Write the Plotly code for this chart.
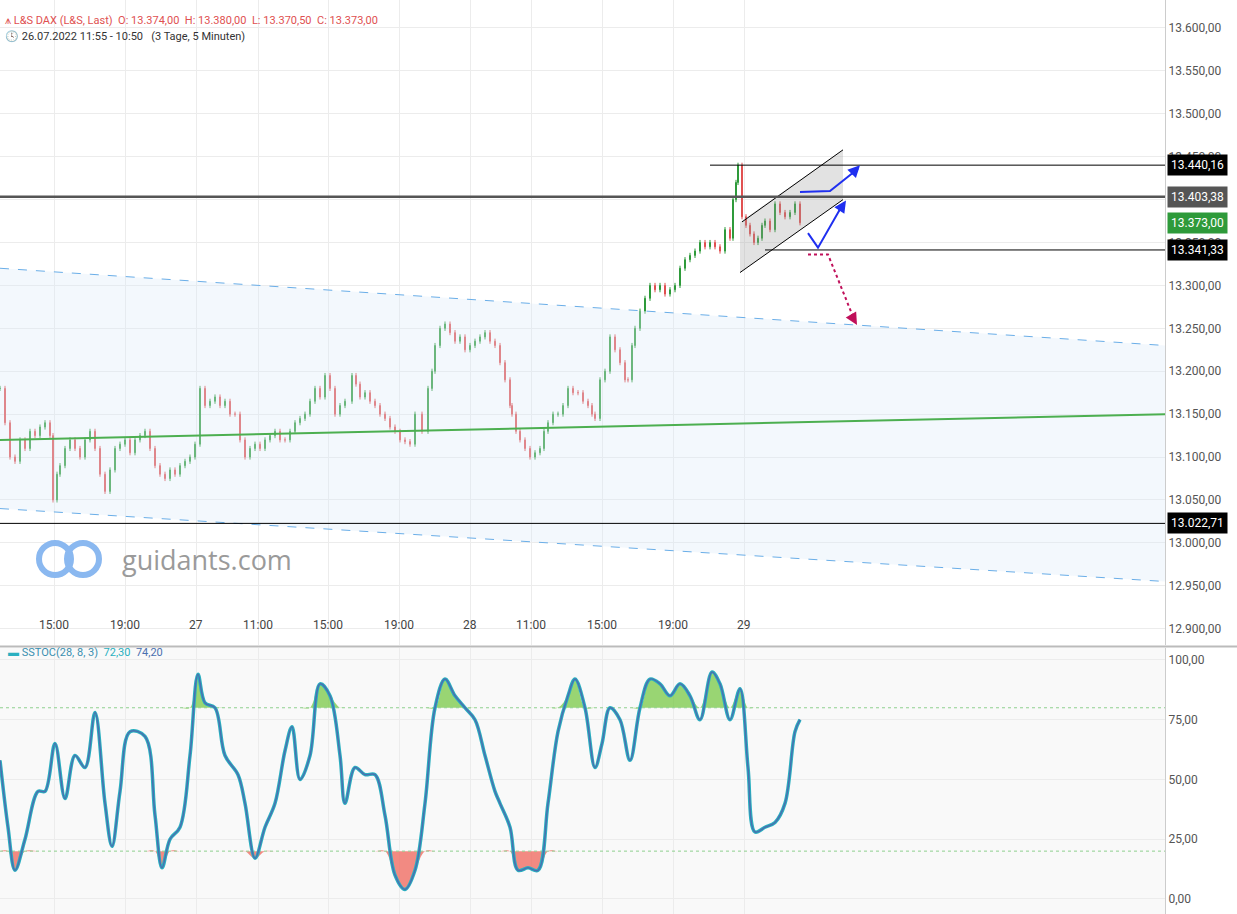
import plotly.graph_objects as go

PX_PER_BAR = 1.48
# price trace: (pixel-x estimate, close)
px_pos = [0,5,10,15,20,25,30,35,40,45,50,53,57,60,65,70,75,80,85,90,95,100,105,110,115,120,125,130,135,140,145,150,155,160,165,170,175,180,185,190,195,200,205,210,215,220,225,230,235,240,245,250,255,260,265,270,275,280,285,290,295,300,305,310,315,320,325,330,335,340,345,352,356,360,365,370,375,380,385,390,395,400,405,410,415,422,428,432,435,440,445,450,455,460,465,470,475,480,485,490,495,500,505,510,512,516,520,525,530,535,540,544,548,553,558,563,568,573,578,583,588,592,595,600,605,610,615,620,625,628,632,635,640,645,650,655,660,665,670,675,680,685,690,695,700,705,710,715,720,725,730,733,736,738,742,746,750,754,758,762,765,770,775,780,785,790,795,800]
closes = [13180,13140,13100,13095,13120,13110,13130,13125,13135,13140,13125,13050,13080,13090,13110,13120,13110,13100,13120,13130,13110,13080,13060,13085,13110,13115,13120,13105,13120,13125,13130,13110,13090,13080,13075,13085,13080,13090,13095,13100,13115,13180,13160,13165,13170,13160,13165,13150,13150,13120,13100,13110,13115,13110,13120,13125,13130,13120,13120,13130,13140,13145,13150,13165,13180,13170,13195,13180,13150,13160,13165,13195,13185,13170,13175,13165,13160,13150,13145,13135,13130,13120,13118,13115,13150,13130,13180,13200,13230,13250,13255,13245,13235,13240,13225,13230,13235,13240,13245,13235,13230,13210,13190,13160,13150,13130,13120,13110,13100,13105,13110,13130,13140,13150,13150,13160,13180,13175,13175,13165,13160,13150,13145,13190,13200,13240,13225,13210,13190,13190,13230,13250,13270,13285,13300,13295,13300,13290,13295,13300,13320,13330,13335,13340,13350,13345,13350,13345,13340,13365,13355,13400,13420,13440,13380,13370,13360,13350,13355,13370,13375,13365,13395,13385,13380,13385,13395,13373]
stoch_px = [0,8,15,25,38,45,55,65,75,85,95,105,112,120,130,145,155,162,170,180,190,198,205,215,225,238,245,255,265,275,285,292,300,310,320,330,340,345,355,365,375,385,395,405,415,425,435,445,455,465,475,485,495,500,510,518,528,538,548,558,568,575,585,595,602,610,620,630,640,650,660,670,680,690,700,712,720,730,740,748,755,765,775,785,795,800]
stoch = [58,30,12,25,45,45,65,42,60,55,78,40,22,45,70,68,35,13,25,30,60,94,82,80,60,52,40,17,30,40,62,72,50,60,90,85,60,40,55,52,52,35,10,4,12,40,80,92,85,80,75,60,45,40,30,12,13,12,40,70,85,92,80,55,65,80,75,58,80,92,90,85,90,85,75,95,90,75,88,55,28,30,32,40,70,75]
tick_px = [54,125,196,258,328,399,470,531,602,673,744]
tick_text = ["15:00","19:00","27","11:00","15:00","19:00","28","11:00","15:00","19:00","29"]

def bx(p):
    return p / PX_PER_BAR

xs = [bx(p) for p in px_pos]
opens = [closes[0]] + closes[:-1]
highs = [max(o, c) + 3 for o, c in zip(opens, closes)]
lows = [min(o, c) - 3 for o, c in zip(opens, closes)]
sx = [bx(p) for p in stoch_px]
XMAX = bx(1165)

fig = go.Figure()
fig.add_trace(go.Scatter(x=[0, XMAX], y=[13040, 12955], mode="lines",
    line=dict(color="#6aaee8", width=1, dash="dash"), hoverinfo="skip"))
fig.add_trace(go.Scatter(x=[0, XMAX], y=[13320, 13230], mode="lines", fill="tonexty",
    fillcolor="rgba(220,235,250,0.35)", line=dict(color="#6aaee8", width=1, dash="dash"), hoverinfo="skip"))
fig.add_trace(go.Scatter(x=[0, XMAX], y=[13120, 13150], mode="lines",
    line=dict(color="#4caf50", width=2), hoverinfo="skip"))
fig.add_trace(go.Scatter(x=[bx(740), bx(843), bx(843), bx(740), bx(740)],
    y=[13315, 13400, 13458, 13374, 13315], mode="lines", fill="toself",
    fillcolor="rgba(160,160,160,0.3)", line=dict(width=0), hoverinfo="skip"))
fig.add_trace(go.Scatter(x=[bx(740), bx(843)], y=[13315, 13400], mode="lines", line=dict(color="black", width=1)))
fig.add_trace(go.Scatter(x=[bx(742), bx(843)], y=[13374, 13458], mode="lines", line=dict(color="black", width=1)))
fig.add_trace(go.Scatter(x=[bx(800), bx(830), bx(858)], y=[13409, 13410, 13436], mode="lines",
    line=dict(color="#1f2ff0", width=2)))
fig.add_trace(go.Scatter(x=[bx(808), bx(818), bx(843)], y=[13361, 13344, 13395], mode="lines",
    line=dict(color="#1f2ff0", width=2)))
fig.add_trace(go.Scatter(x=[bx(808), bx(828), bx(855)], y=[13336, 13336, 13258], mode="lines",
    line=dict(color="#c0105a", width=2, dash="dot")))
for (x0, y0, x1, y1, col) in [(bx(850), 13428, bx(860), 13440, "#1f2ff0"),
                              (bx(838), 13385, bx(846), 13399, "#1f2ff0"),
                              (bx(852), 13264, bx(857), 13254, "#c0105a")]:
    fig.add_annotation(x=x1, y=y1, ax=x0, ay=y0, xref="x", yref="y", axref="x", ayref="y",
                       showarrow=True, arrowhead=2, arrowsize=1.2, arrowwidth=2, arrowcolor=col, text="")
fig.add_trace(go.Scatter(x=[0, XMAX], y=[13403.38]*2, mode="lines", line=dict(color="#555", width=2.5)))
fig.add_trace(go.Scatter(x=[bx(710), XMAX], y=[13440.16]*2, mode="lines", line=dict(color="black", width=1)))
fig.add_trace(go.Scatter(x=[bx(765), XMAX], y=[13341.33]*2, mode="lines", line=dict(color="black", width=1)))
fig.add_trace(go.Scatter(x=[0, XMAX], y=[13022.71]*2, mode="lines", line=dict(color="black", width=1)))
fig.add_trace(go.Candlestick(x=xs, open=opens, high=highs, low=lows, close=closes,
    increasing=dict(line=dict(color="#2e9a3a", width=1), fillcolor="#2e9a3a"),
    decreasing=dict(line=dict(color="#e05050", width=1), fillcolor="#e05050"),
    whiskerwidth=0))

fig.add_trace(go.Scatter(x=sx, y=[80]*len(sx), mode="lines", line=dict(width=0), xaxis="x2", yaxis="y2", hoverinfo="skip"))
fig.add_trace(go.Scatter(x=sx, y=[max(v, 80) for v in stoch], mode="lines", line=dict(width=0, shape="spline"), fill="tonexty",
    fillcolor="rgba(120,200,70,0.75)", xaxis="x2", yaxis="y2", hoverinfo="skip"))
fig.add_trace(go.Scatter(x=sx, y=[20]*len(sx), mode="lines", line=dict(width=0), xaxis="x2", yaxis="y2", hoverinfo="skip"))
fig.add_trace(go.Scatter(x=sx, y=[min(v, 20) for v in stoch], mode="lines", line=dict(width=0, shape="spline"), fill="tonexty",
    fillcolor="rgba(240,110,100,0.8)", xaxis="x2", yaxis="y2", hoverinfo="skip"))
fig.add_trace(go.Scatter(x=[0, XMAX], y=[80, 80], mode="lines", line=dict(color="#8fd08f", width=1, dash="dot"), xaxis="x2", yaxis="y2"))
fig.add_trace(go.Scatter(x=[0, XMAX], y=[20, 20], mode="lines", line=dict(color="#8fd08f", width=1, dash="dot"), xaxis="x2", yaxis="y2"))
fig.add_trace(go.Scatter(x=sx, y=stoch, mode="lines", line=dict(color="#2ab0c0", width=3.5, shape="spline"), xaxis="x2", yaxis="y2"))
fig.add_trace(go.Scatter(x=sx, y=stoch, mode="lines", line=dict(color="#4a70b0", width=1.5, shape="spline"), xaxis="x2", yaxis="y2"))

tv = [bx(p) for p in tick_px]
grid = "#ececec"
fig.update_layout(
    width=1237, height=914, margin=dict(l=0, r=72, t=0, b=0, pad=0, autoexpand=False),
    showlegend=False, plot_bgcolor="white", paper_bgcolor="white",
    separators=",.", font=dict(family="Roboto", size=12, color="#555"),
    xaxis=dict(domain=[0, 1], range=[0, XMAX], tickvals=tv, showticklabels=False, showgrid=True,
               gridcolor=grid, zeroline=False, rangeslider=dict(visible=False), anchor="y", automargin=False),
    xaxis2=dict(domain=[0, 1], range=[0, XMAX], tickvals=tv, showticklabels=False, showgrid=True,
                gridcolor=grid, zeroline=False, anchor="y2", matches="x", automargin=False),
    yaxis=dict(domain=[1 - 645/914, 1], range=[12881, 13632.6], side="right", dtick=50, tickformat=",.2f",
               gridcolor=grid, zeroline=False, showline=True, linecolor="#ccc", ticks="", automargin=False,
               tickfont=dict(size=12, color="#555")),
    yaxis2=dict(domain=[0, 1 - 648/914], range=[-6.3, 105], side="right", tickvals=[0, 25, 50, 75, 100],
                tickformat=",.2f", gridcolor=grid, zeroline=False, showline=True, linecolor="#ccc", automargin=False,
                tickfont=dict(size=12, color="#555")),
)
fig.add_shape(type="rect", xref="paper", yref="paper", x0=0, x1=1, y0=0, y1=1 - 648/914,
              fillcolor="rgba(245,245,245,0.6)", line=dict(width=0), layer="below")
fig.add_shape(type="line", xref="paper", yref="paper", x0=0, x1=1.07, y0=1 - 646.5/914, y1=1 - 646.5/914,
              line=dict(color="#bbb", width=2))
for t, v in zip(tick_text, tv):
    fig.add_annotation(x=v, y=1 - 634/914, xref="x", yref="paper", text=t, showarrow=False,
                       font=dict(size=12, color="#444"))
for val, txt, col in [(13440.16, "13.440,16", "black"), (13403.38, "13.403,38", "#555"),
                      (13373.00, "13.373,00", "#2e9a3a"), (13341.33, "13.341,33", "black"),
                      (13022.71, "13.022,71", "black")]:
    fig.add_annotation(x=1.0, y=val, xref="paper", yref="y", xanchor="left", xshift=2, text=txt,
                       showarrow=False, bgcolor=col, font=dict(color="white", size=12), borderpad=3)
fig.add_annotation(x=0.003, y=1 - 12/914, xref="paper", yref="paper", xanchor="left", showarrow=False,
                   text="<span style='color:#e05050'>⩚ L&S DAX (L&S, Last)  O: 13.374,00  H: 13.380,00  L: 13.370,50  C: 13.373,00</span>",
                   font=dict(size=11))
fig.add_annotation(x=0.003, y=1 - 28/914, xref="paper", yref="paper", xanchor="left", showarrow=False,
                   text="🕓 26.07.2022 11:55 - 10:50   (3 Tage, 5 Minuten)", font=dict(size=11, color="#333"))
fig.add_annotation(x=0.005, y=1 - 661/914, xref="paper", yref="paper", xanchor="left", showarrow=False,
                   text="<span style='color:#2ab0c0'>▬</span> <span style='color:#3a8fb0'>SSTOC(28, 8, 3)</span>  <span style='color:#2ab0c0'>72,30</span>  <span style='color:#4a70b0'>74,20</span>",
                   font=dict(size=11))
fig.add_annotation(x=120/1165, y=1 - 559/914, xref="paper", yref="paper", xanchor="left", showarrow=False,
                   text="guidants.com", font=dict(size=27, color="#9a9a9a", family="Open Sans"))
for cx in [55, 83]:
    fig.add_shape(type="circle", xref="paper", yref="paper", x0=(cx-16)/1165, x1=(cx+16)/1165,
                  y0=1 - 575/914, y1=1 - 543/914, line=dict(color="#8ab8f0", width=6))
fig.write_html("out.html", config={"displayModeBar": False},
               post_script="document.body.style.margin='0';document.body.style.overflow='hidden';")
